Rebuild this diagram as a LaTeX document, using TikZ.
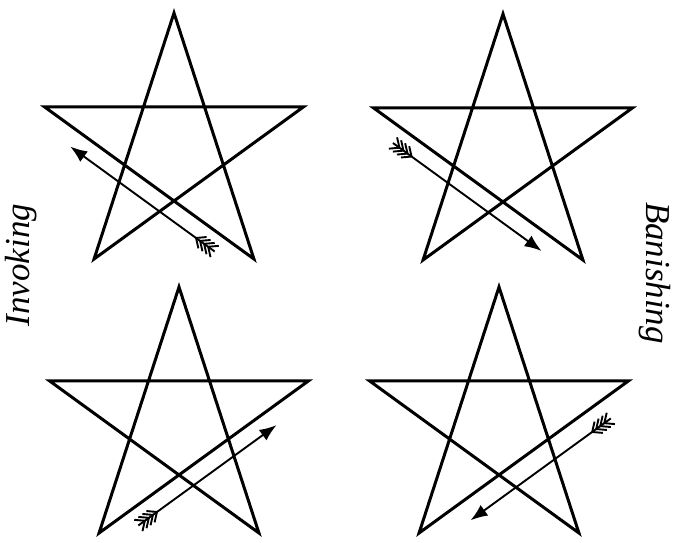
\documentclass[tikz,border=0pt]{standalone}
\usepackage{fontspec}
\setmainfont{Liberation Serif}
\usetikzlibrary{arrows.meta,calc}

\begin{document}
\begin{tikzpicture}[
  x=1pt, y=1pt,
  star/.style={line width=3pt, line join=miter},
  shaft/.style={line width=1.9pt, -{Latex[length=17pt,width=13pt]}},
  feather/.style={line width=1.9pt},
  lbl/.style={font=\fontsize{35}{35}\selectfont\itshape, inner sep=0pt},
]
  \useasboundingbox (0,0) rectangle (678,542);

  % stars: number / centre
  \foreach \s/\cx/\cy in {1/174/393, 2/503/392, 3/179/119, 4/499/119} {
    \foreach \k/\a in {1/90, 2/162, 3/234, 4/306, 5/18} {
      \coordinate (s\s-\k) at ($(\cx,\cy)+(\a:136)$);
    }
    \draw[star] (s\s-1) -- (s\s-3) -- (s\s-5) -- (s\s-2) -- (s\s-4) -- cycle;
  }

  % arrows beside one edge of each star
  \coordinate (tail1) at ($($(s1-4)!0.14!(s1-2)$)!17pt!90:(s1-2)$);
  \coordinate (head1) at ($($(s1-4)!0.83!(s1-2)$)!17pt!90:(s1-2)$);
  \coordinate (tail2) at ($($(s2-2)!0.14!(s2-4)$)!17pt!-90:(s2-4)$);
  \coordinate (head2) at ($($(s2-2)!0.85!(s2-4)$)!17pt!-90:(s2-4)$);
  \coordinate (tail3) at ($($(s3-3)!0.14!(s3-5)$)!17pt!-90:(s3-5)$);
  \coordinate (head3) at ($($(s3-3)!0.80!(s3-5)$)!17pt!-90:(s3-5)$);
  \coordinate (tail4) at ($($(s4-5)!0.14!(s4-3)$)!20pt!90:(s4-3)$);
  \coordinate (head4) at ($($(s4-5)!0.81!(s4-3)$)!20pt!90:(s4-3)$);

  \foreach \n in {1,...,4} {
    \draw[shaft] (tail\n) -- (head\n);
    \foreach \d/\e in {0/8, 5/13, 10/18, 15/23} {
      \draw[feather] ($(tail\n)!\e pt!(head\n)$) -- ($($(tail\n)!\d pt!(head\n)$)!7pt!90:(head\n)$);
      \draw[feather] ($(tail\n)!\e pt!(head\n)$) -- ($($(tail\n)!\d pt!(head\n)$)!7pt!-90:(head\n)$);
    }
  }

  \node[lbl, rotate=90]  (invoking)  at (21,277)  {Invoking};
  \node[lbl, rotate=-90] (banishing) at (655,269) {Banishing};
\end{tikzpicture}
\end{document}
